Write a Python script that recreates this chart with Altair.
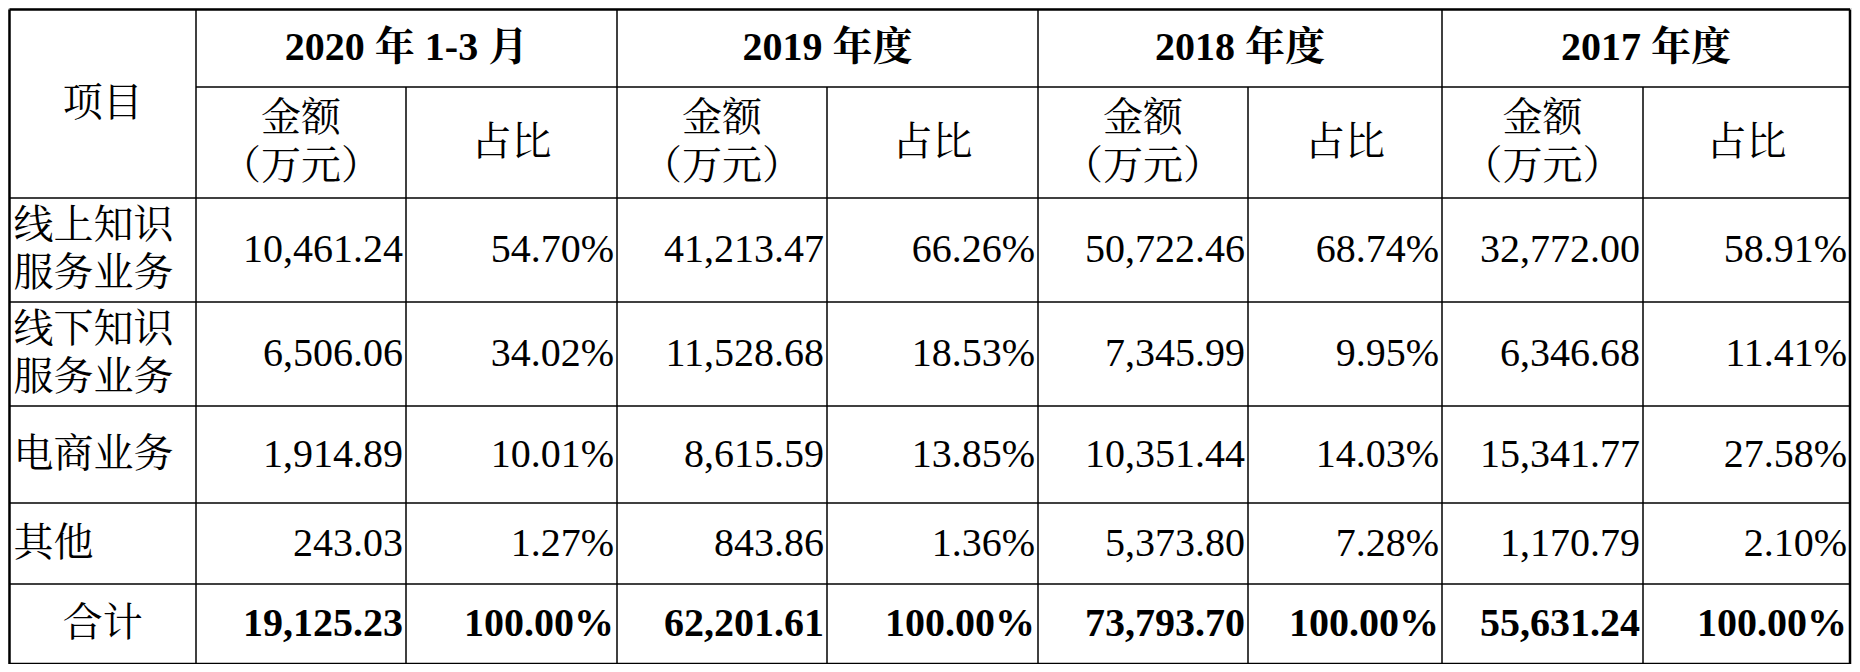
import pandas as pd
import altair as alt

# table content
periods = ["2020 年 1-3 月", "2019 年度", "2018 年度", "2017 年度"]
sub_headers = ["金额\n（万元）", "占比"]
row_labels = ["线上知识\n服务业务", "线下知识\n服务业务", "电商业务", "其他", "合计"]
amounts = [
    ["10,461.24", "41,213.47", "50,722.46", "32,772.00"],
    ["6,506.06", "11,528.68", "7,345.99", "6,346.68"],
    ["1,914.89", "8,615.59", "10,351.44", "15,341.77"],
    ["243.03", "843.86", "5,373.80", "1,170.79"],
    ["19,125.23", "62,201.61", "73,793.70", "55,631.24"],
]
shares = [
    ["54.70%", "66.26%", "68.74%", "58.91%"],
    ["34.02%", "18.53%", "9.95%", "11.41%"],
    ["10.01%", "13.85%", "14.03%", "27.58%"],
    ["1.27%", "1.36%", "7.28%", "2.10%"],
    ["100.00%", "100.00%", "100.00%", "100.00%"],
]

# grid layout (page pixels)
col_edges = [9.5, 196, 406, 617, 827, 1038, 1248, 1442, 1643, 1850]
row_edges = [9.5, 87, 198, 302, 406, 503, 584, 664]

FONT = "Liberation Serif, Noto Serif CJK SC, Noto Sans CJK SC"
SIZE = 40
LINE_H = 48

def cell(x, y, t, a, w):
    # multi-line text: shift up so the block is centred
    if "\n" in t:
        y -= LINE_H * t.count("\n") / 2
    return dict(x=x, y=y, t=t, a=a, w=w)

cells = []
cells.append(cell((col_edges[0] + col_edges[1]) / 2, (row_edges[0] + row_edges[2]) / 2,
                  "项目", "center", "normal"))
for i, p in enumerate(periods):
    cells.append(cell((col_edges[1 + 2 * i] + col_edges[3 + 2 * i]) / 2,
                      (row_edges[0] + row_edges[1]) / 2, p, "center", "bold"))
    for j, s in enumerate(sub_headers):
        c = 1 + 2 * i + j
        cells.append(cell((col_edges[c] + col_edges[c + 1]) / 2,
                          (row_edges[1] + row_edges[2]) / 2, s, "center", "normal"))
for r, lab in enumerate(row_labels):
    yc = (row_edges[2 + r] + row_edges[3 + r]) / 2
    last = r == len(row_labels) - 1
    if last:
        cells.append(cell((col_edges[0] + col_edges[1]) / 2, yc, lab, "center", "normal"))
    else:
        cells.append(cell(col_edges[0] + 4, yc, lab, "left", "normal"))
    for i in range(4):
        for j, v in enumerate([amounts[r][i], shares[r][i]]):
            c = 1 + 2 * i + j
            cells.append(cell(col_edges[c + 1] - 3, yc, v, "right",
                              "bold" if last else "normal"))
cells = pd.DataFrame(cells)

# grid lines
lines = []
for k, y in enumerate(row_edges):
    x0 = col_edges[1] if k == 1 else col_edges[0]
    lines.append(dict(x=x0, x2=col_edges[-1], y=y, y2=y, sw=2.5 if k in (0, 7) else 1.5))
for k, x in enumerate(col_edges):
    y0 = row_edges[1] if k in (2, 4, 6, 8) else row_edges[0]
    lines.append(dict(x=x, x2=x, y=y0, y2=row_edges[-1], sw=2.5 if k in (0, 9) else 1.5))
lines = pd.DataFrame(lines)

xs = alt.Scale(domain=[8, 1852])
ys = alt.Scale(domain=[8, 664], reverse=True)
noaxis = None

rules = alt.Chart(lines).mark_rule(color="black").encode(
    x=alt.X("x:Q", scale=xs, axis=noaxis), x2="x2:Q",
    y=alt.Y("y:Q", scale=ys, axis=noaxis), y2="y2:Q",
    strokeWidth=alt.StrokeWidth("sw:Q", scale=None),
)

def text_layer(align, weight):
    d = cells[(cells.a == align) & (cells.w == weight)]
    return alt.Chart(d).mark_text(
        align=align, baseline="middle", font=FONT, fontSize=SIZE,
        fontWeight=weight, color="black", lineBreak="\n", lineHeight=LINE_H,
    ).encode(
        x=alt.X("x:Q", scale=xs, axis=noaxis),
        y=alt.Y("y:Q", scale=ys, axis=noaxis),
        text="t:N",
    )

layers = [rules] + [text_layer(a, w) for a in ("left", "center", "right") for w in ("normal", "bold")]

chart = alt.layer(*layers).properties(
    width=1844, height=656, padding=0, autosize=alt.AutoSizeParams(type="none")
).configure_view(stroke=None).configure(background="white")

chart.save("out.html", embed_options={"renderer": "svg", "actions": False})
